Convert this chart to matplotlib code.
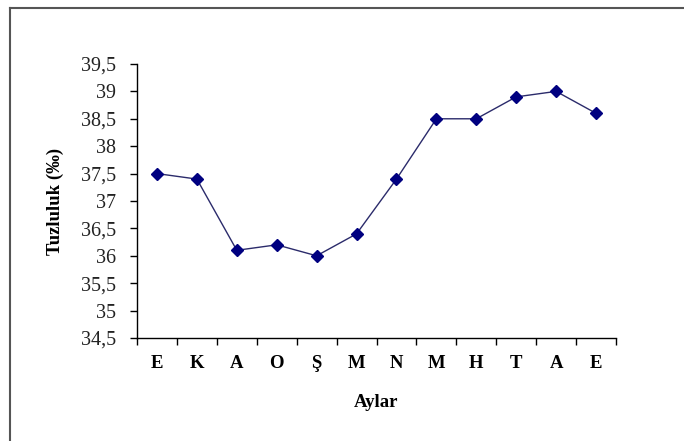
import numpy as np
import matplotlib
matplotlib.use("Agg")
import matplotlib.pyplot as plt
from matplotlib.ticker import FuncFormatter
from matplotlib.lines import Line2D

# Monthly salinity values
months = ['E', 'K', 'A', 'O', 'Ş', 'M', 'N', 'M', 'H', 'T', 'A', 'E']
salinity = [37.5, 37.4, 36.1, 36.2, 36.0, 36.4, 37.4, 38.5, 38.5, 38.9, 39.0, 38.6]
yticks = [34.5, 35, 35.5, 36, 36.5, 37, 37.5, 38, 38.5, 39, 39.5]

plt.rcParams['font.family'] = ['Liberation Serif', 'DejaVu Serif']

fig = plt.figure(figsize=(6.84, 4.41), dpi=100)
ax = fig.add_axes([0.2003, 0.2336, 0.7003, 0.6213])

x = np.arange(len(months)) + 0.5
ax.plot(x, salinity, color='#2b2b6b', lw=1.0, marker='D', ms=6,
        markerfacecolor='#000080', markeredgecolor='#000080')

ax.set_xlim(0, len(months))
ax.set_ylim(34.5, 39.5)
ax.set_yticks(yticks)
ax.yaxis.set_major_formatter(FuncFormatter(lambda v, p: ('%g' % v).replace('.', ',')))
ax.tick_params(axis='y', direction='out', length=5, width=1, labelsize=14.5,
               pad=10, labelcolor='#222222')

ax.set_xticks(np.arange(len(months) + 1))
ax.set_xticklabels([])
ax.set_xticks(x, minor=True)
ax.set_xticklabels(months, minor=True, fontweight='bold', fontsize=13.5)
ax.tick_params(axis='x', which='major', direction='out', length=5, width=1)
ax.tick_params(axis='x', which='minor', length=0, pad=12)

for s in ['top', 'right']:
    ax.spines[s].set_visible(False)
for s in ['left', 'bottom']:
    ax.spines[s].set_linewidth(1)

ax.set_xlabel('Aylar', fontweight='bold', fontsize=13.5)
ax.xaxis.set_label_coords(0.5, -0.205)
ax.set_ylabel('Tuzluluk (‰)', fontweight='bold', fontsize=13.5)
ax.yaxis.set_label_coords(-0.171, 0.5)
ax.yaxis.label.set_va('center')

# outer frame of the chart area (left and top edges)
fig.add_artist(Line2D([0.0146, 0.0146], [0.0, 0.982], transform=fig.transFigure,
                      color='#555555', lw=1.5))
fig.add_artist(Line2D([0.0146, 1.0], [0.982, 0.982], transform=fig.transFigure,
                      color='#555555', lw=1.5))

fig.savefig('out.png', dpi=100)
